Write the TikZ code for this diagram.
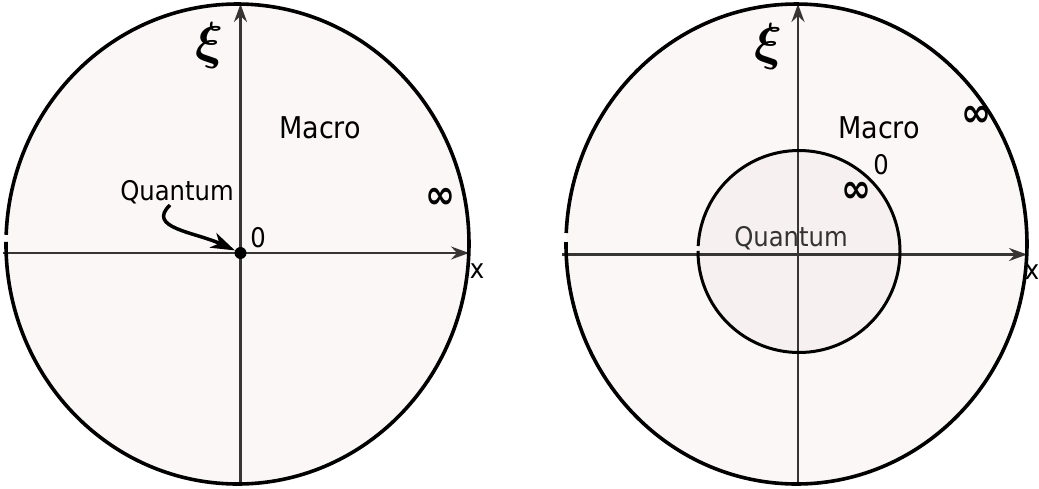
\documentclass[tikz,border=0pt]{standalone}
\usepackage{fontspec}
\setmainfont{DejaVu Sans Condensed}
\usetikzlibrary{arrows.meta}
\definecolor{outerfill}{RGB}{251,247,247}
\definecolor{innerfill}{RGB}{246,240,241}
\definecolor{axisgray}{RGB}{55,52,52}
\definecolor{qgray}{RGB}{51,51,51}
\begin{document}
\begin{tikzpicture}[x=1pt,y=-1pt,
  axis/.style={draw=axisgray,line width=2.6pt,-{Stealth[length=18pt,width=13pt,inset=6pt]}},
  rim/.style={draw=black,line width=3.6pt},
  lbl/.style={font=\fontsize{27}{30}\selectfont,inner sep=0pt},
  big/.style={font=\fontsize{30}{33}\selectfont,inner sep=0pt},
  inf/.style={font=\fontsize{40}{42}\selectfont\bfseries,inner sep=0pt},
  xisym/.style={inner sep=0pt}]
\useasboundingbox (0,0) rectangle (1039,488);
% fills
\fill[outerfill] (237.5,244) ellipse [x radius=231.5, y radius=240];
\fill[outerfill] (796.5,244) ellipse [x radius=230.5, y radius=240];
\fill[innerfill] (799,251.5) circle [radius=101];
% axes
\coordinate (lxs) at (3,253);
\coordinate (lxe) at (469,253);
\coordinate (lys) at (240.5,486);
\coordinate (lye) at (240.5,4);
\coordinate (rxs) at (562,254.5);
\coordinate (rxe) at (1027,254.5);
\coordinate (rys) at (798,486);
\coordinate (rye) at (798,4);
\draw[axis] (lxs) -- (lxe);
\draw[axis] (lys) -- (lye);
\draw[axis] (rxs) -- (rxe);
\draw[axis] (rys) -- (rye);
% rims
\draw[rim] (6.17,234.8) arc[start angle=182.2, end angle=540.5, x radius=231.5, y radius=240];
\draw[rim] (566.24,233.0) arc[start angle=182.63, end angle=540.48, x radius=230.5, y radius=240];
\draw[rim,line width=3pt] (698.15,246.04) arc[start angle=183.1, end angle=540.3, radius=101];
% left labels
\node[big] (macroL) at (320,128) {Macro};
\node[lbl,anchor=base] (quantL) at (177,200) {Quantum};
\node[lbl] (zeroL) at (258,238) {0};
\node[inf] (infL) at (440,198) {∞};
\node[lbl] (xL) at (477,271) {x};
\node[xisym] (xiL) at (210,45) {\scalebox{5.2}{\boldmath$\xi$}};
\node[circle,fill=black,inner sep=0pt,minimum size=12pt] (dot) at (240.5,253) {};
\coordinate (qarr) at (170,205);
\draw[line width=3.5pt,-{Stealth[length=24pt,width=16pt,inset=7pt]}] (qarr) .. controls (146,228) and (195,232) .. (dot);
% right labels
\node[big] (macroR) at (879,128) {Macro};
\node[lbl] (zeroR) at (881,165) {0};
\node[inf] (infRi) at (856,192) {∞};
\node[inf] (infRo) at (976,116) {∞};
\node[lbl,text=qgray] (quantR) at (791,238) {Quantum};
\node[lbl] (xR) at (1032,272) {x};
\node[xisym] (xiR) at (768,46) {\scalebox{5.2}{\boldmath$\xi$}};
\end{tikzpicture}
\end{document}
